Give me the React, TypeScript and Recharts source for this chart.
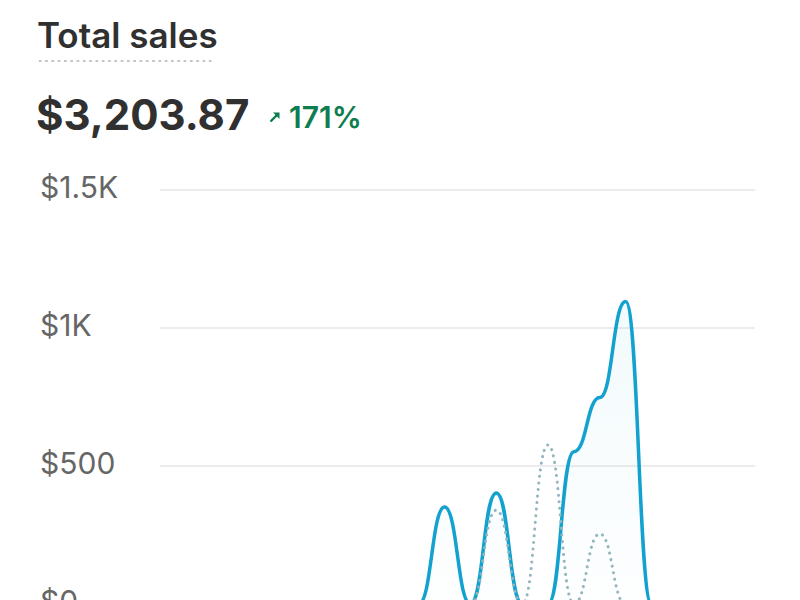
import React from "react"
import { ComposedChart, Area, Line, XAxis, YAxis, CartesianGrid } from "recharts"

// hourly sales, today vs previous period
const hours = [
  "12 AM", "1 AM", "2 AM", "3 AM", "4 AM", "5 AM", "6 AM", "7 AM", "8 AM", "9 AM", "10 AM", "11 AM",
  "12 PM", "1 PM", "2 PM", "3 PM", "4 PM", "5 PM", "6 PM", "7 PM", "8 PM", "9 PM", "10 PM", "11 PM",
]
const currentSales = [0, 0, 0, 0, 0, 0, 0, 0, 0, 0, 0, 351, 0, 402, 0, 0, 552, 748, 1096, 0, 0, 0, 0, 0]
const previousSales = [0, 0, 0, 0, 0, 0, 0, 0, 0, 0, 0, 0, 0, 340, 0, 576, 0, 254, 0, 0, 0, 0, 0, 0]
const yTicks = [0, 500, 1000, 1500]

const data = hours.map((hour, i) => ({ hour, current: currentSales[i], previous: previousSales[i] }))

const FONT = "Inter, 'Noto Sans', 'Liberation Sans', sans-serif"
const BLUE = "#13a2cf"
const GREEN = "#0e7d4f"

const fmtMoney = (v: number) => (v >= 1000 ? `$${v / 1000}K` : `$${v}`)

function YTick(props: any) {
  const { y, payload } = props
  return (
    <text x={32} y={y - 2} dy="0.34em" textAnchor="start" fill="#666666" fontSize={30} fontFamily={FONT}>
      {fmtMoney(payload.value)}
    </text>
  )
}

export default function App() {
  return (
    <div style={{ position: "relative", width: 784, height: 592, overflow: "hidden", fontFamily: FONT, background: "#fff" }}>
      <div style={{ position: "absolute", left: 29, top: 10, fontSize: 35, lineHeight: "35px", fontWeight: 600, color: "#303030" }}>
        Total sales
      </div>
      <div
        style={{
          position: "absolute",
          left: 29,
          top: 51,
          width: 177,
          height: 4,
          backgroundImage: "radial-gradient(circle, #c4c4c4 1.1px, transparent 1.5px)",
          backgroundSize: "6.3px 4px",
        }}
      />
      <div style={{ position: "absolute", left: 28, top: 86, fontSize: 42, lineHeight: "42px", fontWeight: 700, color: "#303030" }}>
        $3,203.87
      </div>
      <svg style={{ position: "absolute", left: 259, top: 101 }} width={16} height={16} viewBox="0 0 16 16">
        <path d="M3.5 12.5 L10 6" stroke={GREEN} strokeWidth={2.4} fill="none" />
        <path d="M6 3.5 H12.5 V10 Z" fill={GREEN} />
      </svg>
      <div style={{ position: "absolute", left: 281, top: 94, fontSize: 30, lineHeight: "30px", fontWeight: 600, color: GREEN }}>
        171%
      </div>
      <div style={{ position: "absolute", left: 0, top: 160 }}>
        <ComposedChart width={752} height={476} data={data} margin={{ top: 22, right: 5, bottom: 40, left: 0 }}>
          <defs>
            <linearGradient id="salesFill" x1="0" y1="0" x2="0" y2="1">
              <stop offset="0%" stopColor={BLUE} stopOpacity={0.09} />
              <stop offset="100%" stopColor={BLUE} stopOpacity={0.01} />
            </linearGradient>
          </defs>
          <CartesianGrid vertical={false} stroke="#e6e6e6" strokeWidth={1.5} />
          <XAxis dataKey="hour" hide />
          <YAxis
            domain={[0, 1500]}
            ticks={yTicks}
            width={152}
            axisLine={false}
            tickLine={false}
            tick={<YTick />}
          />
          <Line
            type="bumpX"
            dataKey="previous"
            stroke="#93b6bf"
            strokeWidth={3}
            strokeDasharray="0.1 6.5"
            strokeLinecap="round"
            dot={false}
            activeDot={false}
            isAnimationActive={false}
          />
          <Area
            type="bumpX"
            dataKey="current"
            stroke={BLUE}
            strokeWidth={3.5}
            fill="url(#salesFill)"
            dot={false}
            activeDot={false}
            isAnimationActive={false}
          />
        </ComposedChart>
      </div>
    </div>
  )
}
